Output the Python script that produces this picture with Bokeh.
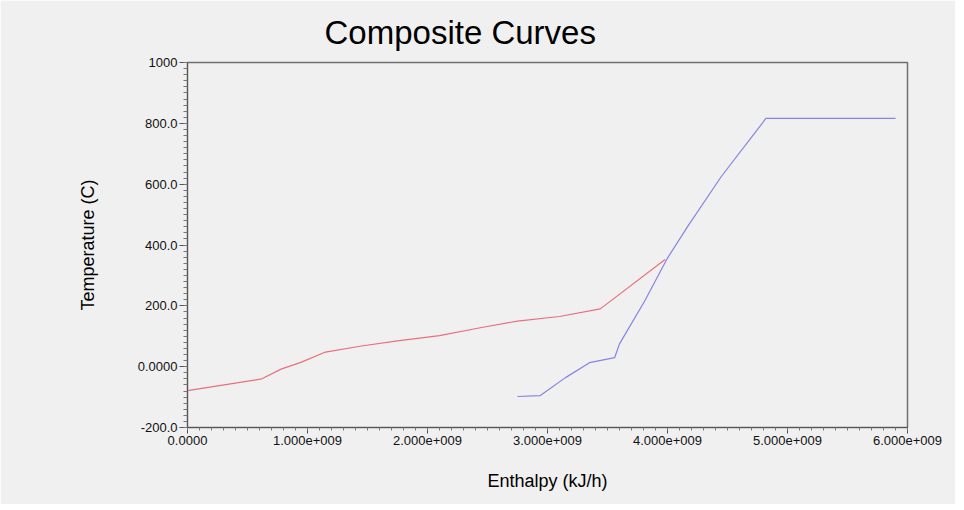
from bokeh.plotting import figure
from bokeh.embed import file_html
from bokeh.resources import INLINE
from bokeh.models import FixedTicker, Range1d

# Hot composite curve (red)
hot_h = [0.0, 0.62e9, 0.78e9, 0.95e9, 1.15e9, 1.45e9, 1.75e9, 2.1e9, 2.44e9, 2.75e9, 3.1e9, 3.44e9, 3.98e9]
hot_t = [-79, -40, -8, 15, 48, 68, 85, 102, 128, 150, 165, 190, 352]

# Cold composite curve (blue)
cold_h = [2.75e9, 2.94e9, 3.15e9, 3.35e9, 3.56e9, 3.60e9, 3.81e9, 4.0e9, 4.17e9, 4.45e9, 4.82e9, 5.9e9]
cold_t = [-98, -95, -36, 13, 30, 75, 216, 357, 462, 626, 816, 816]

x_ticks = [0, 1e9, 2e9, 3e9, 4e9, 5e9, 6e9]
x_labels = ["0.0000", "1.000e+009", "2.000e+009", "3.000e+009", "4.000e+009", "5.000e+009", "6.000e+009"]
y_ticks = [-200, 0, 200, 400, 600, 800, 1000]
y_labels = ["-200.0", "0.0000", "200.0", "400.0", "600.0", "800.0", "1000"]

FONT = "Liberation Sans"
BG = "#f0f0f0"

p = figure(width=955, height=504, output_backend="svg", toolbar_location=None,
           x_range=Range1d(0, 6e9), y_range=Range1d(-200, 1000),
           min_border_left=187, min_border_right=48, min_border_top=62, min_border_bottom=77,
           background_fill_color=BG, border_fill_color=BG,
           title="Composite Curves")

p.title.text_font = FONT
p.title.text_font_size = "33px"
p.title.text_font_style = "normal"
p.title.text_color = "#000000"
p.title.align = "left"
p.title.offset = 137
p.title.standoff = 23

p.outline_line_color = "#707070"
p.outline_line_width = 1.5
p.xgrid.visible = False
p.ygrid.visible = False

p.line(hot_h, hot_t, line_color="#e8707c", line_width=1.2)
p.line(cold_h, cold_t, line_color="#8484e4", line_width=1.2)

p.xaxis.ticker = FixedTicker(ticks=x_ticks, minor_ticks=[i * 1e8 for i in range(61)])
p.xaxis.major_label_overrides = dict(zip(x_ticks, x_labels))
p.yaxis.ticker = FixedTicker(ticks=y_ticks, minor_ticks=[-200 + 20 * i for i in range(61)])
p.yaxis.major_label_overrides = dict(zip(y_ticks, y_labels))

for ax in (p.xaxis[0], p.yaxis[0]):
    ax.axis_line_color = "#555555"
    ax.major_tick_line_color = "#555555"
    ax.minor_tick_line_color = "#777777"
    ax.major_tick_in = 0
    ax.minor_tick_in = 0
    ax.major_label_text_font = FONT
    ax.major_label_text_font_size = "13px"
    ax.major_label_text_color = "#111111"
    ax.axis_label_text_font = FONT
    ax.axis_label_text_font_size = "18px"
    ax.axis_label_text_font_style = "normal"
    ax.axis_label_text_color = "#000000"

p.xaxis.major_tick_out = 6
p.xaxis.minor_tick_out = 3
p.yaxis.major_tick_out = 8
p.yaxis.minor_tick_out = 4
p.xaxis.major_label_standoff = 2
p.yaxis.major_label_standoff = 2

p.xaxis.axis_label = "Enthalpy (kJ/h)"
p.yaxis.axis_label = "Temperature (C)"
p.xaxis.axis_label_standoff = 23
p.yaxis.axis_label_standoff = 37

open("out.html", "w").write(file_html(p, INLINE))
